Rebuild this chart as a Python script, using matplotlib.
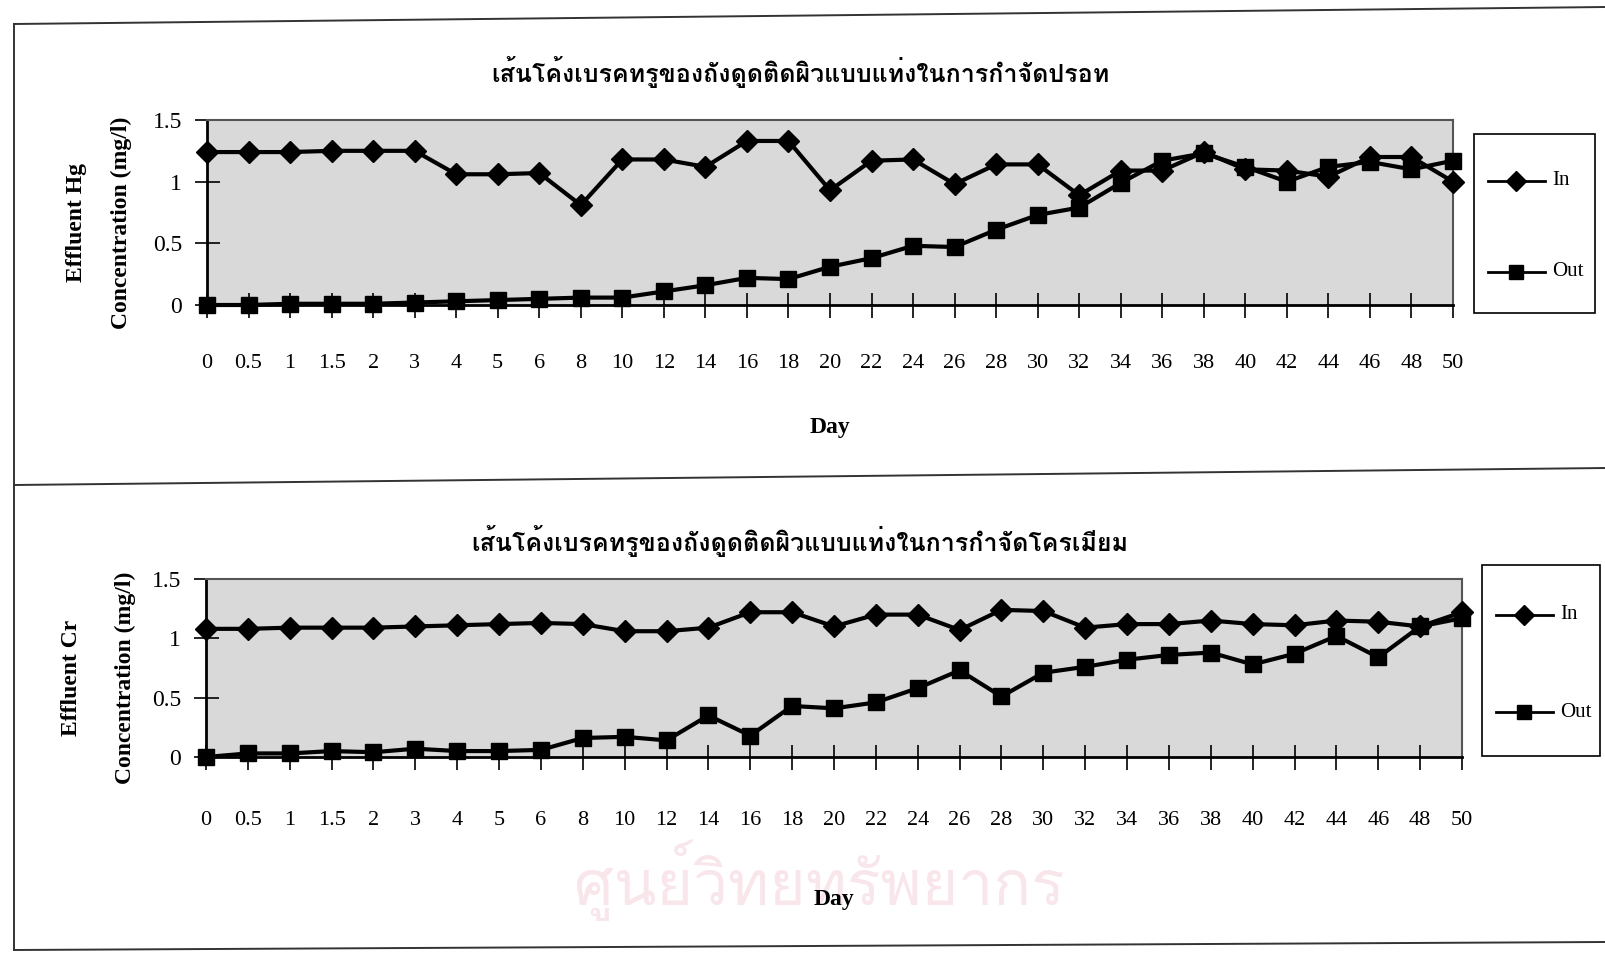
import matplotlib
matplotlib.use("Agg")
import matplotlib.pyplot as plt
from matplotlib.lines import Line2D
from matplotlib.patches import Rectangle
from matplotlib import font_manager as fm
from matplotlib.ft2font import FT2Font

# ---- data -------------------------------------------------------------
days = ["0", "0.5", "1", "1.5", "2", "3", "4", "5", "6", "8", "10", "12", "14",
        "16", "18", "20", "22", "24", "26", "28", "30", "32", "34", "36", "38",
        "40", "42", "44", "46", "48", "50"]

hg_in = [1.24, 1.24, 1.24, 1.25, 1.25, 1.25, 1.06, 1.06, 1.07, 0.81, 1.18, 1.18,
         1.12, 1.33, 1.33, 0.93, 1.17, 1.18, 0.98, 1.14, 1.14, 0.89, 1.09, 1.09,
         1.24, 1.10, 1.09, 1.04, 1.20, 1.20, 1.00]
hg_out = [0.00, 0.00, 0.01, 0.01, 0.01, 0.02, 0.03, 0.04, 0.05, 0.06, 0.06, 0.11,
          0.16, 0.22, 0.21, 0.31, 0.38, 0.48, 0.47, 0.61, 0.73, 0.79, 0.99, 1.17,
          1.23, 1.12, 1.00, 1.12, 1.16, 1.10, 1.17]

cr_in = [1.08, 1.08, 1.09, 1.09, 1.09, 1.10, 1.11, 1.12, 1.13, 1.12, 1.06, 1.06,
         1.09, 1.22, 1.22, 1.10, 1.20, 1.20, 1.07, 1.24, 1.23, 1.09, 1.12, 1.12,
         1.15, 1.12, 1.11, 1.15, 1.14, 1.10, 1.22]
cr_out = [0.00, 0.03, 0.03, 0.05, 0.04, 0.07, 0.05, 0.05, 0.06, 0.16, 0.17, 0.14,
          0.35, 0.18, 0.43, 0.41, 0.46, 0.58, 0.73, 0.51, 0.71, 0.76, 0.82, 0.86,
          0.88, 0.78, 0.87, 1.02, 0.84, 1.10, 1.17]

yticks = [0, 0.5, 1, 1.5]
ytick_labels = ["0", "0.5", "1", "1.5"]
series_names = ["In", "Out"]

title_hg = "เส้นโค้งเบรคทรูของถังดูดติดผิวแบบแท่งในการกำจัดปรอท"
title_cr = "เส้นโค้งเบรคทรูของถังดูดติดผิวแบบแท่งในการกำจัดโครเมียม"
watermark = "ศูนย์วิทยทรัพยากร"


def thai_families():
    found = []
    for f in fm.fontManager.ttflist:
        try:
            if 0x0E01 in FT2Font(f.fname).get_charmap() and f.name not in found:
                found.append(f.name)
        except Exception:
            pass
    return found


thai = thai_families()
thai_font = [thai[0]] if thai else []
thai_family = thai_font + ["Liberation Serif", "DejaVu Sans"]

plt.rcParams["font.family"] = ["Liberation Serif", "DejaVu Sans"]
plt.rcParams["hatch.color"] = "#8a8a8a"
plt.rcParams["hatch.linewidth"] = 0.8

W, H = 1606, 956
fig = plt.figure(figsize=(W / 100, H / 100), dpi=100)


def fx(px):
    return px / W


def fy(py):
    return 1 - py / H


# page frame lines of the document
frame = dict(color="#333333", lw=1.4, transform=fig.transFigure)
fig.add_artist(Line2D([fx(14), fx(1606)], [fy(24), fy(7)], **frame))
fig.add_artist(Line2D([fx(14), fx(14)], [fy(24), fy(950)], **frame))
fig.add_artist(Line2D([fx(14), fx(1606)], [fy(485), fy(468)], **frame))
fig.add_artist(Line2D([fx(14), fx(1606)], [fy(950), fy(942)], **frame))

fig.text(fx(819), fy(880), watermark, family=thai_family, fontsize=45,
         color="#f8e6eb", ha="center", va="center", zorder=-5)


def legend_box(box, text_size):
    x0, y0, x1, y1 = box
    fig.add_artist(Rectangle((fx(x0), fy(y1)), fx(x1) - fx(x0), (y1 - y0) / H,
                             transform=fig.transFigure, fill=False,
                             edgecolor="black", lw=1.2))
    rows = [y0 + 0.26 * (y1 - y0), y0 + 0.77 * (y1 - y0)]
    for name, marker, yy in zip(series_names, ["D", "s"], rows):
        fig.add_artist(Line2D([fx(x0 + 14), fx(x0 + 71)], [fy(yy), fy(yy)],
                              transform=fig.transFigure, color="black", lw=2))
        fig.add_artist(Line2D([fx(x0 + 42)], [fy(yy)],
                              transform=fig.transFigure, color="black",
                              marker=marker, ms=10, lw=0))
        fig.text(fx(x0 + 78), fy(yy), name, fontsize=text_size,
                 ha="left", va="center")


def panel(box, y_in, y_out, title, title_xy, metal_label, metal_x, conc_x,
          xpad, day_pad, leg_box):
    l, t, r, b = box
    ax = fig.add_axes([fx(l), fy(b), fx(r) - fx(l), (b - t) / H])
    ax.patch.set_facecolor("#d9d9d9")
    ax.patch.set_hatch(".....")
    x = list(range(len(days)))
    ax.plot(x, y_in, color="black", lw=3, marker="D", ms=11, mfc="black",
            mec="black", clip_on=False, zorder=3)
    ax.plot(x, y_out, color="black", lw=3, marker="s", ms=12, mfc="black",
            mec="black", clip_on=False, zorder=3)
    ax.set_xlim(0, len(days) - 1)
    ax.set_ylim(0, 1.5)
    ax.set_xticks(x)
    ax.set_xticklabels(days, fontsize=16)
    ax.set_yticks(yticks)
    ax.set_yticklabels(ytick_labels, fontsize=17)
    ax.tick_params(axis="x", direction="inout", length=18, width=1.2, pad=xpad)
    ax.tick_params(axis="y", direction="inout", length=18, width=1.2, pad=9)
    for s in ("left", "bottom"):
        ax.spines[s].set_linewidth(2)
        ax.spines[s].set_color("black")
    for s in ("top", "right"):
        ax.spines[s].set_linewidth(1.5)
        ax.spines[s].set_color("#555555")
        ax.spines[s].set_linestyle((0, (4, 1)))
    ax.set_xlabel("Day", fontsize=17, fontweight="bold", labelpad=day_pad)
    fig.text(fx(conc_x), fy((t + b) / 2 + 10), "Concentration (mg/l)",
             rotation=90, ha="center", va="center", fontsize=17,
             fontweight="bold")
    fig.text(fx(metal_x), fy((t + b) / 2 + 10), metal_label, rotation=90,
             ha="center", va="center", fontsize=17, fontweight="bold")
    fig.text(fx(title_xy[0]), fy(title_xy[1]), title, family=thai_family,
             ha="center", va="center", fontsize=18, fontweight="bold")
    legend_box(leg_box, 15)
    return ax


panel((207, 120, 1453, 305), hg_in, hg_out, title_hg, (800, 72),
      "Effluent Hg", 77, 121, 26, 32, (1474, 134, 1595, 313))
panel((206, 579, 1462, 757), cr_in, cr_out, title_cr, (800, 541),
      "Effluent Cr", 72, 125, 30, 42, (1482, 565, 1600, 756))

fig.savefig("out.png", dpi=100, facecolor="white")
